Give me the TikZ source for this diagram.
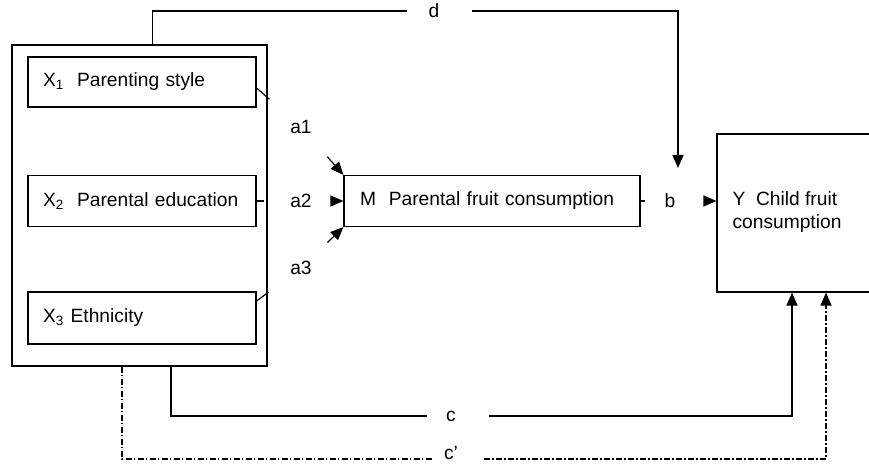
\documentclass[tikz,border=0pt]{standalone}
\usepackage{fontspec}
\setmainfont{Liberation Sans}
\usepackage{tikz}
\usetikzlibrary{
    positioning,
    arrows.meta
}
\tikzset{
    caja/.style={
        draw,
        line width=0.6pt,
        rectangle,
        inner xsep=7.5pt,
        align=left,
        font=\fontsize{9.6}{11.5}\selectfont
    },
    etiq/.style={
        inner sep=0pt,
        font=\fontsize{9.6}{11.5}\selectfont
    },
    puntoraya/.style={
        dash pattern=on 3pt off 1.2pt on 0.6pt off 1.2pt
    }
}

\begin{document}
\begin{tikzpicture}[
    x=0.5pt,
    y=-0.5pt,
    line width=0.6pt,
    >={Triangle[length=6.5pt,width=5.5pt]}
]
    \useasboundingbox (0,0) rectangle (869,464);

    % Cajas
    \node[caja, minimum width=127.5pt, minimum height=160.5pt] (ext) at (139.5,205.5) {};

    \node[caja, minimum width=114pt, minimum height=25pt, text width=99pt]
        (X1) at (142,82)  {X\textsubscript{1}\ \ Parenting style};
    \node[caja, minimum width=114pt, minimum height=25.5pt, text width=99pt]
        (X2) at (142,201) {X\textsubscript{2}\ \ Parental education};
    \node[caja, minimum width=114pt, minimum height=26pt, text width=99pt]
        (X3) at (142,318) {X\textsubscript{3} Ethnicity};

    \node[caja, minimum width=148pt, minimum height=25.5pt, inner xsep=8pt, text width=132pt]
        (M) at (492,201) {M\ \ Parental fruit consumption};

    \node[caja, minimum width=100pt, minimum height=79pt] (Y) at (817,213) {};
    \node[etiq, anchor=north west, align=left] (Ytxt) at (732,191)
        {Y\ \ Child fruit\\consumption};

    \coordinate (dtip) at (678,168);

    % Etiquetas
    \node[etiq] (la1) at (301,127) {a1};
    \node[etiq] (la2) at (301,201) {a2};
    \node[etiq] (la3) at (301,268) {a3};
    \node[etiq] (lb)  at (670,201) {b};
    \node[etiq] (ld)  at (434,11)  {d};
    \node[etiq] (lc)  at (451,416) {c};
    \node[etiq] (lcp) at (451,453) {c'};

    % Caminos a
    \draw[shorten >=15.5pt] ([yshift=-3pt]X1.east) -- (la1);
    \draw[->, shorten <=15pt] (la1) -- (M.north west);

    \draw[shorten >=13pt] (X2.east) -- (la2);
    \draw[->, shorten <=13.5pt] (la2) -- (M.west);

    \draw[shorten >=14pt] ([yshift=8.5pt]X3.east) -- (la3);
    \draw[->, shorten <=13pt] (la3) -- (M.south west);

    % Camino b
    \draw[shorten >=9.5pt] (M.east) -- (lb);
    \draw[->, shorten <=16.5pt] (lb) -- ([yshift=6pt]Y.west);

    % Camino d
    \draw[shorten >=10.5pt] ([xshift=6.5pt]ext.north) |- (ld);
    \draw[->, shorten <=16pt] (ld) -| (dtip);

    % Camino c
    \draw[shorten >=9.5pt] ([xshift=15.75pt]ext.south) |- (lc);
    \draw[->, shorten <=16.5pt] (lc) -| ([xshift=-12.5pt]Y.south);

    % Camino c'
    \draw[puntoraya, shorten >=9.5pt] ([xshift=-8.75pt]ext.south) |- ([yshift=-3pt]lcp.center);
    \draw[puntoraya, ->, shorten <=16.5pt] ([yshift=-3pt]lcp.center) -| ([xshift=4.5pt]Y.south);

\end{tikzpicture}
\end{document}
